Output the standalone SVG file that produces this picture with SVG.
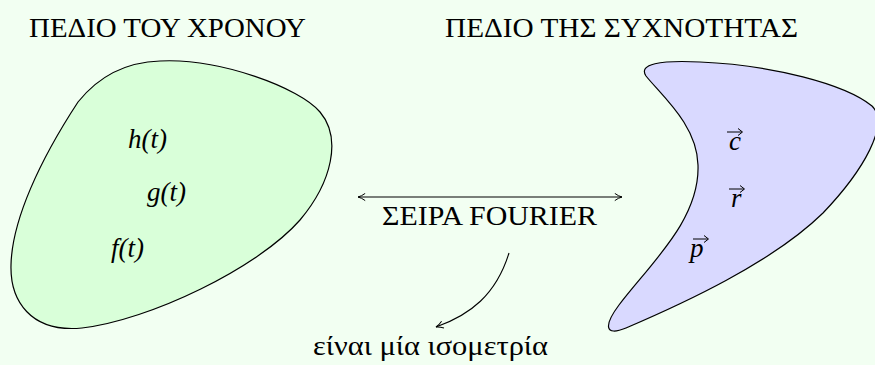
<svg xmlns="http://www.w3.org/2000/svg" width="875" height="365" viewBox="0 0 875 365">
<defs>
<style>
text{font-family:"Liberation Serif","DejaVu Serif",serif;fill:#000}
.t{font-size:28px}
.m{font-size:27px;font-style:italic}
.blob{stroke:#000;stroke-width:1.2}
.ln{fill:none;stroke:#000;stroke-width:1.1}
.va{fill:none;stroke:#000;stroke-width:1}
</style>
<marker id="ah" viewBox="0 0 10 10" refX="9" refY="5" markerWidth="9" markerHeight="9" markerUnits="userSpaceOnUse" orient="auto-start-reverse">
<path d="M1,1 Q5,4 9,5 Q5,6 1,9" fill="none" stroke="#000" stroke-width="1.1"/>
</marker>
</defs>
<rect width="875" height="365" fill="#f2fff2"/>
<g id="time-domain">
<path class="blob" fill="#d9ffd9" d="M160,61 C220,58 300,88 320,112 C342,138 332,182 300,220 C258,268 150,320 82,328 C30,333 10,300 11,265 C12,220 40,160 78,102 C102,72 130,62 160,61 Z"/>
<text class="t" x="29" y="37" textLength="277" lengthAdjust="spacingAndGlyphs">ΠΕΔΙΟ ΤΟΥ ΧΡΟΝΟΥ</text>
<text class="m" x="128" y="148">h(t)</text>
<text class="m" x="147" y="201">g(t)</text>
<text class="m" x="111" y="257">f(t)</text>
</g>
<g id="frequency-domain">
<path class="blob" fill="#d9d9ff" d="M646,76 C638,64 660,60 700,62 C772,65 845,84 872,106 C890,124 864,170 823,213 C772,263 682,304 626,328 C604,337 604,325 619,305 C650,264 700,220 698,165 C697,125 662,96 646,76 Z"/>
<text class="t" x="445" y="37" textLength="353" lengthAdjust="spacingAndGlyphs">ΠΕΔΙΟ ΤΗΣ ΣΥΧΝΟΤΗΤΑΣ</text>
<text class="m" x="729" y="150">c</text>
<path class="va" d="M727,132 H742 M738,128.5 L742.5,132 L738,135.5"/>
<text class="m" x="731" y="207">r</text>
<path class="va" d="M729,189 H744 M740,185.5 L744.5,189 L740,192.5"/>
<text class="m" x="690" y="257">p</text>
<path class="va" d="M693,239 H708 M704,235.5 L708.5,239 L704,242.5"/>
</g>
<g id="fourier-label">
<text class="t" x="382" y="225" textLength="215" lengthAdjust="spacingAndGlyphs">ΣΕΙΡΑ FOURIER</text>
</g>
<g id="isometry-label">
<text class="t" x="313" y="355" textLength="235" lengthAdjust="spacingAndGlyphs">είναι μία ισομετρία</text>
</g>
<g id="connectors">
<line class="ln" x1="358" y1="197" x2="622" y2="197" marker-start="url(#ah)" marker-end="url(#ah)"/>
<path class="ln" d="M509,253 C496,295 470,315 436,327" marker-end="url(#ah)"/>
</g>
</svg>
